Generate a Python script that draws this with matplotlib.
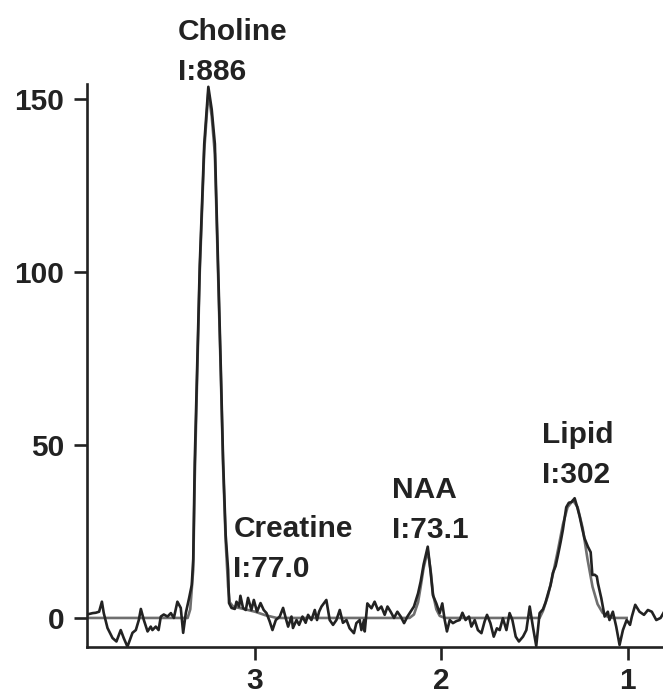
import matplotlib
matplotlib.use("Agg")
import matplotlib.pyplot as plt

# measured spectrum (chemical shift in ppm, signal amplitude)
spec_ppm = [
    3.900, 3.869, 3.853, 3.835, 3.820, 3.810, 3.790, 3.763, 3.742, 3.719,
    3.703, 3.683, 3.656, 3.638, 3.622, 3.611, 3.595, 3.575, 3.558, 3.549,
    3.531, 3.516, 3.504, 3.488, 3.468, 3.450, 3.434, 3.415, 3.397, 3.384,
    3.370, 3.352, 3.338, 3.330, 3.322, 3.308, 3.295, 3.271, 3.249, 3.231,
    3.214, 3.197, 3.182, 3.170, 3.156, 3.143, 3.138, 3.125, 3.107, 3.098,
    3.084, 3.077, 3.063, 3.048, 3.036, 3.018, 3.005, 2.988, 2.969, 2.952,
    2.937, 2.920, 2.905, 2.887, 2.866, 2.848, 2.834, 2.821, 2.803, 2.795,
    2.776, 2.762, 2.744, 2.727, 2.714, 2.696, 2.678, 2.666, 2.655, 2.642,
    2.616, 2.598, 2.580, 2.562, 2.544, 2.527, 2.508, 2.491, 2.468, 2.455,
    2.437, 2.428, 2.414, 2.410, 2.396, 2.374, 2.357, 2.339, 2.321, 2.303,
    2.288, 2.271, 2.253, 2.235, 2.217, 2.199, 2.181, 2.164, 2.146, 2.124,
    2.110, 2.094, 2.072, 2.056, 2.044, 2.026, 2.008, 1.994, 1.981, 1.969,
    1.954, 1.937, 1.918, 1.901, 1.886, 1.869, 1.851, 1.838, 1.820, 1.803,
    1.784, 1.767, 1.754, 1.736, 1.718, 1.701, 1.686, 1.669, 1.650, 1.633,
    1.618, 1.600, 1.583, 1.561, 1.543, 1.525, 1.508, 1.490, 1.472, 1.454,
    1.440, 1.427, 1.413, 1.401, 1.386, 1.374, 1.359, 1.347, 1.329, 1.315,
    1.300, 1.284, 1.270, 1.257, 1.244, 1.231, 1.213, 1.198, 1.189, 1.177,
    1.165, 1.159, 1.141, 1.123, 1.106, 1.097, 1.079, 1.061, 1.043, 1.025,
    1.005, 0.987, 0.977, 0.959, 0.936, 0.912, 0.891, 0.870, 0.846, 0.823,
    0.807,
]
spec_amp = [
    1.0, 1.4, 1.5, 1.8, 4.7, 1.4, -2.9, -5.8, -6.8, -3.5,
    -5.8, -8.3, -4.3, -3.5, -0.6, 2.6, -0.6, -3.9, -2.5, -3.5,
    -2.5, -3.5, 0.4, 1.0, 0.4, 1.4, 0.0, 4.7, 2.9, -4.3,
    1.4, 5.8, 9.5, 17.0, 45.0, 75.0, 102.0, 137.0, 153.5, 147.0,
    137.0, 103.0, 72.0, 46.0, 24.0, 13.9, 4.3, 2.9, 2.6, 4.7,
    3.3, 6.4, 2.9, 2.3, 5.8, 2.3, 5.2, 1.8, 4.3, 2.3,
    1.4, -1.0, -3.5, -0.6, 0.4, 2.9, 0.0, -2.5, 0.4, -2.9,
    -0.6, -2.0, 0.4, -1.4, 0.9, -0.6, 2.3, -0.6, 1.8, 3.3,
    5.2, -0.6, -2.0, -0.6, 2.3, -1.4, -0.6, -3.0, -4.4, -1.5,
    -0.6, -3.5, -0.6, -3.9, 4.2, 2.8, 4.7, 2.3, 3.3, 0.9,
    3.3, 1.8, 0.0, 1.8, 0.4, -1.5, 0.4, 1.8, 3.3, 7.1,
    10.5, 15.5, 20.6, 13.0, 6.5, 4.2, 1.4, 4.2, -0.6, -3.9,
    -0.6, -1.5, -0.9, -0.6, 1.5, -0.6, 0.4, -2.5, -0.6, -3.5,
    -4.4, -1.0, 0.9, -1.5, -5.4, -3.0, -3.5, -0.1, -3.5, 1.4,
    -0.6, -5.4, -6.8, -5.4, -3.5, 3.3, -2.5, -8.1, 1.4, 2.5,
    4.5, 7.0, 9.5, 13.0, 15.0, 18.0, 22.0, 25.5, 32.0, 33.3,
    33.5, 34.6, 32.0, 29.3, 26.0, 23.0, 20.6, 19.0, 12.4, 12.5,
    12.0, 10.0, 5.7, 0.4, 1.8, -0.6, 1.8, -2.5, -7.8, -3.5,
    -0.6, -2.0, 0.4, 3.8, 1.8, 0.9, 2.3, 1.8, -0.6, 0.0,
    1.5,
]

# fitted model spectrum
fit_ppm = [
    3.900, 3.360, 3.346, 3.330, 3.322, 3.308, 3.295, 3.271, 3.249, 3.231,
    3.214, 3.197, 3.182, 3.170, 3.156, 3.143, 3.134, 3.116, 3.052, 2.998,
    2.944, 2.882, 2.170, 2.146, 2.124, 2.110, 2.094, 2.072, 2.056, 2.044,
    2.026, 2.008, 1.981, 1.472, 1.454, 1.427, 1.401, 1.374, 1.347, 1.322,
    1.293, 1.268, 1.241, 1.215, 1.188, 1.161, 1.134, 1.106, 1.080, 1.005,
]
fit_amp = [
    0.0, 0.0, 2.5, 14.0, 40.0, 72.0, 100.0, 135.0, 152.0, 145.0,
    134.0, 100.0, 70.0, 44.0, 22.0, 9.0, 4.5, 3.3, 2.5, 1.8,
    0.8, 0.0, 0.0, 1.0, 4.5, 9.0, 14.5, 19.5, 13.5, 7.0,
    2.5, 0.6, 0.0, 0.0, 2.0, 6.5, 12.5, 19.5, 27.0, 32.0,
    34.0, 32.0, 26.0, 17.0, 9.0, 4.0, 1.5, 0.3, 0.0, 0.0,
]

# metabolite labels: name, integral, text anchor (ppm, amplitude)
peak_names = ["Choline", "Creatine", "NAA", "Lipid"]
peak_integrals = ["886", "77.0", "73.1", "302"]
label_ppm = [3.413, 3.115, 2.262, 1.458]
label_amp = [155.5, 11.8, 23.1, 39.0]

x_ticks = [3, 2, 1]
y_ticks = [0, 50, 100, 150]

ink = "#222222"
font = dict(family=["Liberation Sans", "DejaVu Sans"], weight="bold",
            color=ink, fontsize=21.5)

fig = plt.figure(figsize=(6.63, 6.94), dpi=100)
ax = fig.add_axes([0.1312, 0.0677, 0.8688, 0.8112])

ax.plot(fit_ppm, fit_amp, color="#6f6f6f", lw=1.9, zorder=2)
ax.plot(spec_ppm, spec_amp, color=ink, lw=1.9, zorder=3)

ax.set_xlim(3.90, 0.81)
ax.set_ylim(-8.4, 154.3)

for side in ("top", "right"):
    ax.spines[side].set_visible(False)
for side in ("left", "bottom"):
    ax.spines[side].set_linewidth(1.9)
    ax.spines[side].set_color(ink)

ax.set_xticks(x_ticks)
ax.set_yticks(y_ticks)
ax.set_xticklabels([str(t) for t in x_ticks], **font)
ax.set_yticklabels([str(t) for t in y_ticks], **font)
ax.tick_params(axis="both", direction="out", length=9.5, width=1.9,
               color=ink, pad=7)
ax.tick_params(axis="x", pad=5)

line_gap = 11.6  # amplitude units between the two label lines
for name, integ, px, py in zip(peak_names, peak_integrals, label_ppm, label_amp):
    ax.text(px, py + line_gap, name, ha="left", va="baseline",
            clip_on=False, **font)
    ax.text(px, py, "I:" + integ, ha="left", va="baseline",
            clip_on=False, **font)

fig.savefig("out.png", dpi=100)
